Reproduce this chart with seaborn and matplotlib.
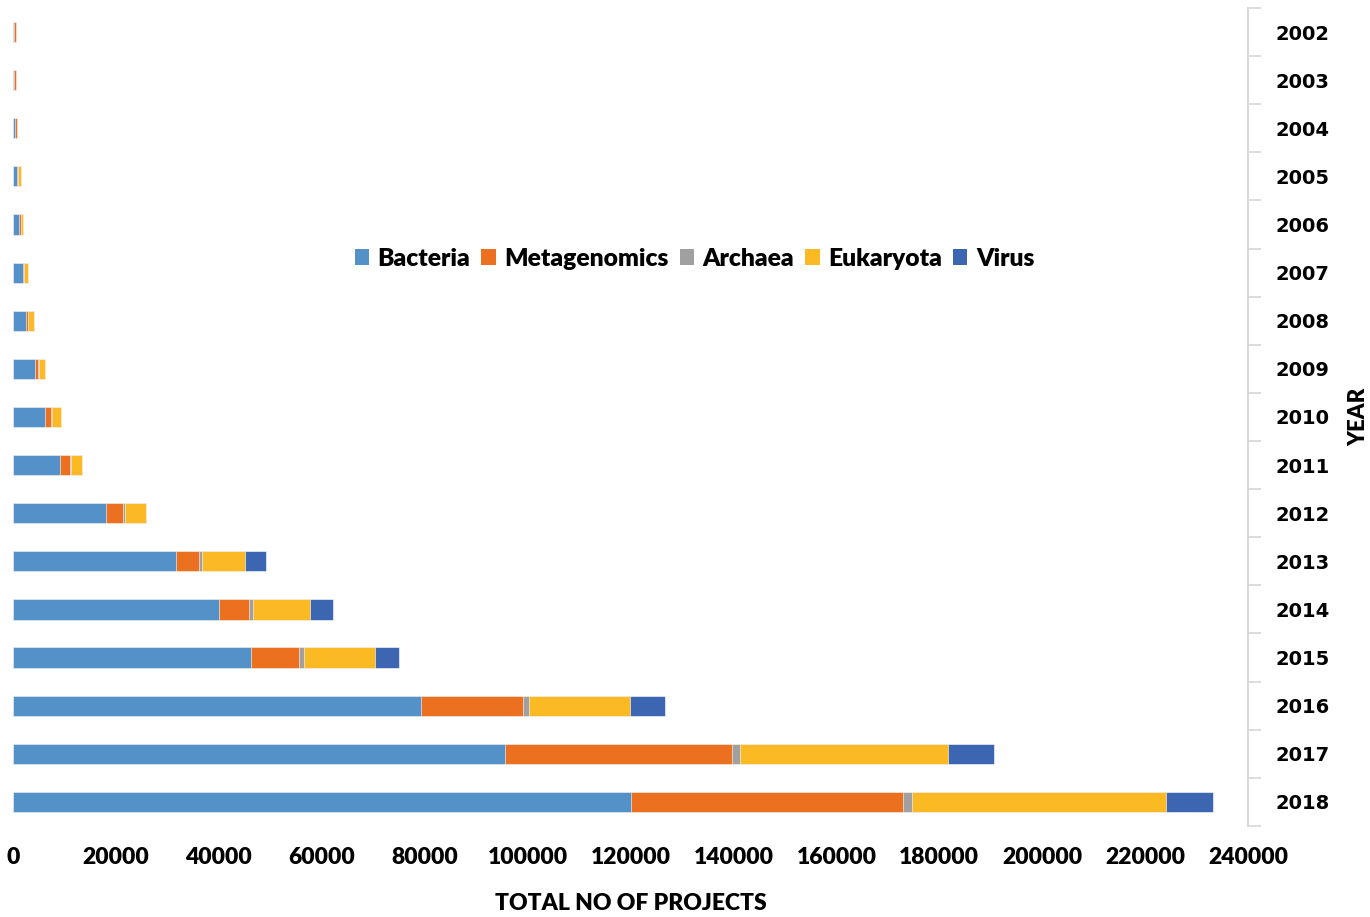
import numpy as np
import pandas as pd
import matplotlib
matplotlib.use("Agg")
import matplotlib.pyplot as plt
from matplotlib.patches import Patch
import seaborn as sns

# values (number of projects per year)
years = [str(y) for y in range(2002, 2019)]
bacteria = [250, 250, 450, 850, 1150, 1950, 2600, 4200, 6200, 9050,
            18100, 31600, 40000, 46200, 79300, 95600, 120000]
metagenomics = [300, 300, 350, 100, 350, 100, 250, 600, 1150, 2000,
                3200, 4600, 5900, 9300, 19800, 44100, 53000]
archaea = [0, 0, 0, 0, 0, 100, 50, 300, 200, 200,
           450, 450, 800, 1100, 1100, 1600, 1600]
eukaryota = [0, 0, 0, 550, 400, 800, 1150, 1050, 1700, 2200,
             4000, 8500, 11000, 13700, 19600, 40400, 49500]
virus = [0, 0, 0, 0, 0, 0, 0, 0, 0, 0,
         0, 4100, 4400, 4700, 6800, 8900, 9100]

categories = ["Bacteria", "Metagenomics", "Archaea", "Eukaryota", "Virus"]
colors = ["#5591C9", "#EB7120", "#A0A0A0", "#FBB924", "#3D66B2"]

df = pd.DataFrame({
    "Year": years,
    "Bacteria": bacteria,
    "Metagenomics": metagenomics,
    "Archaea": archaea,
    "Eukaryota": eukaryota,
    "Virus": virus,
})

# running totals so the bars can be drawn on top of each other
cum = df[categories].cumsum(axis=1)
cum["Year"] = df["Year"]

sns.set_theme(style="white")
plt.rcParams["font.family"] = ["DejaVu Sans"]
plt.rcParams["text.color"] = "black"
plt.rcParams["axes.labelcolor"] = "black"
plt.rcParams["xtick.color"] = "black"
plt.rcParams["ytick.color"] = "black"

calib = ["Lato", "DejaVu Sans"]

fig = plt.figure(figsize=(13.7, 9.17), dpi=100)
ax = fig.add_axes([0.0095, 0.0993, 0.9015, 0.8920])

# draw the longest stack first, then shorter ones over it
for cat, col in reversed(list(zip(categories, colors))):
    sns.barplot(data=cum, x=cat, y="Year", order=years, color=col,
                saturation=1, width=0.42, errorbar=None, orient="h",
                edgecolor="white", linewidth=0.4, ax=ax)

ax.set_xlim(0, 240000)
ax.set_xticks(range(0, 240001, 20000))
ax.set_xticklabels([str(v) for v in range(0, 240001, 20000)],
                   family=calib, fontweight="heavy", fontsize=16.5)
ax.tick_params(axis="x", length=0, pad=15)
ax.set_xlabel("TOTAL NO OF PROJECTS", family=calib, fontweight="heavy",
              fontsize=16.5, labelpad=18)

# year axis on the right side, Excel style
ax.yaxis.tick_right()
ax.yaxis.set_label_position("right")
ax.set_yticks(np.arange(-0.5, len(years), 1), minor=True)
ax.tick_params(axis="y", which="major", length=0, pad=20)
ax.tick_params(axis="y", which="minor", right=True, length=9,
               width=1.3, color="#d9d9d9")
for lbl in ax.get_yticklabels():
    lbl.set_fontweight("bold")
    lbl.set_fontsize(14)
ax.set_ylabel("YEAR", family=calib, fontweight="heavy", fontsize=16,
              rotation=90, labelpad=13)

for s in ["top", "left", "bottom"]:
    ax.spines[s].set_visible(False)
ax.spines["right"].set_color("#d9d9d9")
ax.spines["right"].set_linewidth(1.5)

handles = [Patch(facecolor=c, edgecolor="none") for c in colors]
fig.legend(handles, categories, loc="center", bbox_to_anchor=(0.507, 0.718),
           ncol=5, frameon=False, handlelength=0.58, handleheight=0.58,
           handletextpad=0.35, columnspacing=0.45,
           prop={"family": calib, "weight": "heavy", "size": 17.7})

fig.savefig("out.png", dpi=100)
